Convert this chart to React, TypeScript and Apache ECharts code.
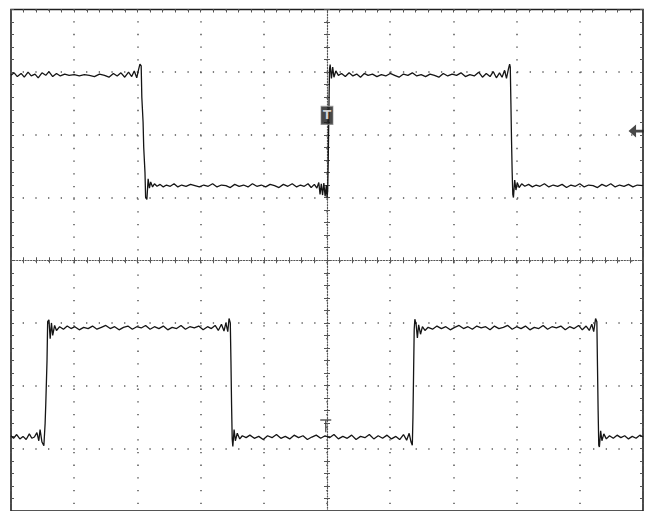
import React, { useEffect, useRef } from "react";
import * as echarts from "echarts";

// time in divisions relative to trigger, amplitude in divisions
const ch1Trace: number[][] = [
  [-5.00, 2.95], [-4.95, 2.99], [-4.90, 2.93], [-4.84, 2.98], [-4.79, 2.92], [-4.73, 3.00], [-4.68, 2.94],
  [-4.62, 2.97], [-4.57, 2.91], [-4.51, 2.99], [-4.45, 2.95], [-4.40, 3.01], [-4.34, 2.93], [-4.28, 2.98],
  [-4.22, 2.94], [-4.15, 2.97], [-4.08, 2.95], [-4.00, 2.96], [-3.92, 2.94], [-3.84, 2.96], [-3.76, 2.95],
  [-3.68, 2.93], [-3.60, 2.97], [-3.52, 2.95], [-3.45, 2.92], [-3.38, 2.98], [-3.32, 2.94], [-3.26, 2.99],
  [-3.20, 2.92], [-3.14, 3.00], [-3.09, 2.93], [-3.05, 3.02], [-3.01, 2.91], [-2.98, 3.05], [-2.96, 3.13],
  [-2.94, 3.10], [-2.93, 2.60], [-2.91, 2.20], [-2.90, 1.80], [-2.88, 1.40], [-2.87, 1.00], [-2.85, 0.97],
  [-2.83, 1.30], [-2.81, 1.15], [-2.79, 1.25], [-2.76, 1.17], [-2.73, 1.22], [-2.69, 1.18], [-2.64, 1.21],
  [-2.59, 1.17], [-2.54, 1.20], [-2.48, 1.18], [-2.42, 1.22], [-2.36, 1.17], [-2.30, 1.20], [-2.23, 1.18],
  [-2.16, 1.21], [-2.09, 1.19], [-2.02, 1.17], [-1.95, 1.20], [-1.88, 1.18], [-1.81, 1.22], [-1.74, 1.17],
  [-1.67, 1.20], [-1.60, 1.19], [-1.53, 1.16], [-1.46, 1.21], [-1.39, 1.18], [-1.32, 1.20], [-1.25, 1.17],
  [-1.18, 1.22], [-1.11, 1.18], [-1.04, 1.20], [-0.97, 1.17], [-0.90, 1.21], [-0.83, 1.19], [-0.76, 1.16],
  [-0.69, 1.21], [-0.62, 1.18], [-0.55, 1.22], [-0.48, 1.17], [-0.42, 1.20], [-0.36, 1.18], [-0.30, 1.22],
  [-0.25, 1.16], [-0.20, 1.21], [-0.16, 1.15], [-0.13, 1.24], [-0.11, 1.05], [-0.09, 1.22], [-0.07, 1.04],
  [-0.05, 1.23], [-0.03, 1.02], [-0.01, 1.20], [0.00, 1.00], [0.01, 1.10], [0.02, 1.60], [0.03, 2.40],
  [0.04, 3.05], [0.05, 3.12], [0.07, 2.90], [0.09, 3.08], [0.11, 2.92], [0.14, 3.02], [0.18, 2.95],
  [0.23, 2.98], [0.29, 2.93], [0.35, 2.99], [0.41, 2.94], [0.47, 2.97], [0.53, 2.92], [0.59, 2.98],
  [0.65, 2.95], [0.72, 2.97], [0.79, 2.93], [0.86, 2.96], [0.93, 2.94], [1.00, 2.98], [1.07, 2.95],
  [1.14, 2.92], [1.21, 2.97], [1.28, 2.95], [1.35, 2.99], [1.42, 2.94], [1.49, 2.96], [1.56, 2.93],
  [1.63, 2.97], [1.70, 2.95], [1.77, 2.92], [1.84, 2.98], [1.91, 2.94], [1.98, 2.97], [2.05, 2.95],
  [2.12, 2.99], [2.19, 2.93], [2.26, 2.96], [2.33, 2.94], [2.40, 3.00], [2.46, 2.92], [2.52, 2.98],
  [2.58, 2.93], [2.63, 3.01], [2.68, 2.91], [2.73, 2.99], [2.77, 2.92], [2.81, 3.03], [2.84, 2.90],
  [2.87, 3.05], [2.89, 3.13], [2.90, 3.08], [2.91, 2.50], [2.92, 1.90], [2.93, 1.40], [2.94, 1.05],
  [2.95, 1.00], [2.97, 1.28], [2.99, 1.12], [3.01, 1.24], [3.04, 1.16], [3.08, 1.22], [3.13, 1.18],
  [3.19, 1.21], [3.25, 1.17], [3.31, 1.20], [3.37, 1.18], [3.44, 1.22], [3.51, 1.17], [3.58, 1.20],
  [3.65, 1.18], [3.72, 1.21], [3.79, 1.16], [3.86, 1.20], [3.93, 1.18], [4.00, 1.22], [4.07, 1.17],
  [4.14, 1.20], [4.21, 1.19], [4.28, 1.16], [4.35, 1.21], [4.42, 1.18], [4.49, 1.22], [4.56, 1.17],
  [4.63, 1.20], [4.70, 1.18], [4.77, 1.21], [4.84, 1.17], [4.91, 1.20], [5.00, 1.19],
];

const ch2Trace: number[][] = [
  [-5.00, -2.80], [-4.96, -2.84], [-4.91, -2.78], [-4.86, -2.85], [-4.81, -2.81], [-4.76, -2.86],
  [-4.71, -2.77], [-4.67, -2.84], [-4.63, -2.82], [-4.59, -2.75], [-4.56, -2.88], [-4.54, -2.70],
  [-4.51, -2.90], [-4.48, -2.96], [-4.46, -2.60], [-4.45, -2.30], [-4.43, -1.60], [-4.42, -0.98],
  [-4.40, -0.95], [-4.38, -1.25], [-4.36, -1.00], [-4.34, -1.20], [-4.31, -1.04], [-4.28, -1.12],
  [-4.23, -1.06], [-4.17, -1.10], [-4.11, -1.05], [-4.05, -1.09], [-3.99, -1.06], [-3.92, -1.11],
  [-3.85, -1.07], [-3.78, -1.09], [-3.71, -1.05], [-3.64, -1.10], [-3.57, -1.07], [-3.50, -1.04],
  [-3.43, -1.09], [-3.36, -1.06], [-3.29, -1.11], [-3.22, -1.07], [-3.15, -1.05], [-3.08, -1.10],
  [-3.01, -1.06], [-2.94, -1.08], [-2.87, -1.04], [-2.80, -1.10], [-2.73, -1.06], [-2.66, -1.09],
  [-2.59, -1.05], [-2.52, -1.11], [-2.45, -1.07], [-2.38, -1.09], [-2.31, -1.04], [-2.24, -1.10],
  [-2.17, -1.06], [-2.10, -1.08], [-2.03, -1.05], [-1.96, -1.11], [-1.89, -1.06], [-1.83, -1.09],
  [-1.77, -1.04], [-1.72, -1.12], [-1.67, -1.02], [-1.63, -1.13], [-1.60, -1.00], [-1.57, -1.14],
  [-1.55, -0.93], [-1.53, -1.00], [-1.52, -1.60], [-1.51, -2.30], [-1.50, -2.85], [-1.49, -2.97],
  [-1.47, -2.70], [-1.45, -2.88], [-1.42, -2.76], [-1.38, -2.85], [-1.34, -2.80], [-1.28, -2.83],
  [-1.22, -2.79], [-1.15, -2.84], [-1.08, -2.81], [-1.01, -2.86], [-0.94, -2.80], [-0.87, -2.83],
  [-0.80, -2.78], [-0.73, -2.84], [-0.66, -2.81], [-0.59, -2.85], [-0.52, -2.79], [-0.45, -2.83],
  [-0.38, -2.80], [-0.31, -2.86], [-0.24, -2.82], [-0.17, -2.79], [-0.10, -2.84], [-0.03, -2.80],
  [0.04, -2.83], [0.11, -2.78], [0.18, -2.85], [0.25, -2.81], [0.32, -2.84], [0.39, -2.79],
  [0.46, -2.86], [0.53, -2.81], [0.60, -2.83], [0.67, -2.78], [0.74, -2.85], [0.81, -2.80],
  [0.88, -2.84], [0.95, -2.79], [1.02, -2.85], [1.09, -2.81], [1.15, -2.86], [1.21, -2.78],
  [1.26, -2.87], [1.30, -2.76], [1.33, -2.90], [1.35, -2.95], [1.36, -2.50], [1.37, -1.80],
  [1.38, -1.10], [1.39, -0.94], [1.41, -1.02], [1.43, -1.24], [1.45, -1.03], [1.48, -1.18],
  [1.51, -1.06], [1.55, -1.12], [1.60, -1.07], [1.67, -1.10], [1.74, -1.05], [1.81, -1.09],
  [1.88, -1.06], [1.95, -1.11], [2.02, -1.07], [2.09, -1.04], [2.16, -1.09], [2.23, -1.06],
  [2.30, -1.10], [2.37, -1.05], [2.44, -1.08], [2.51, -1.06], [2.58, -1.11], [2.65, -1.05],
  [2.72, -1.09], [2.79, -1.07], [2.86, -1.04], [2.93, -1.10], [3.00, -1.06], [3.07, -1.09],
  [3.14, -1.05], [3.21, -1.11], [3.28, -1.07], [3.35, -1.09], [3.42, -1.04], [3.49, -1.10],
  [3.56, -1.06], [3.63, -1.08], [3.70, -1.05], [3.77, -1.11], [3.84, -1.06], [3.91, -1.09],
  [3.98, -1.04], [4.04, -1.11], [4.10, -1.05], [4.15, -1.12], [4.19, -1.02], [4.22, -1.14],
  [4.25, -0.93], [4.27, -0.98], [4.28, -1.70], [4.29, -2.40], [4.30, -2.95], [4.31, -2.98],
  [4.33, -2.72], [4.35, -2.88], [4.38, -2.77], [4.42, -2.85], [4.47, -2.80], [4.53, -2.84],
  [4.59, -2.79], [4.65, -2.83], [4.71, -2.80], [4.77, -2.85], [4.83, -2.81], [4.89, -2.84],
  [4.95, -2.79], [5.00, -2.82],
];

const triggerMarker: number[][] = [[0, 2.31]];
const ch1RefMarker: number[][] = [[4.89, 2.06]];
const triggerLevelMarker: number[][] = [[-0.02, -2.64]];

const X_MIN = -5;
const X_MAX = 5;
const Y_MIN = -4;
const Y_MAX = 4;

const DOT = "#555555";

const borderAxisX = (position: string) => ({
  type: "value",
  min: X_MIN,
  max: X_MAX,
  interval: 1,
  position,
  axisLine: { show: false, onZero: false },
  axisLabel: { show: false },
  axisTick: { show: true, inside: true, length: 3, lineStyle: { color: DOT, width: 1 } },
  minorTick: { show: true, splitNumber: 5, length: 3, lineStyle: { color: DOT, width: 1 } },
  splitLine: { show: false },
});

const borderAxisY = (position: string) => ({
  type: "value",
  min: Y_MIN,
  max: Y_MAX,
  interval: 1,
  position,
  axisLine: { show: false, onZero: false },
  axisLabel: { show: false },
  axisTick: { show: true, inside: true, length: 3, lineStyle: { color: DOT, width: 1 } },
  minorTick: { show: true, splitNumber: 5, length: 3, lineStyle: { color: DOT, width: 1 } },
  splitLine: { show: false },
});

const centerAxisX = (inside: boolean, showLine: boolean) => ({
  type: "value",
  min: X_MIN,
  max: X_MAX,
  interval: 1,
  position: "bottom",
  axisLine: {
    show: showLine,
    onZero: true,
    onZeroAxisIndex: 0,
    lineStyle: { color: DOT, width: 1.2, type: [1.2, 1.6] },
  },
  axisLabel: { show: false },
  axisTick: { show: true, inside, length: 3, lineStyle: { color: DOT, width: 1 } },
  minorTick: { show: true, splitNumber: 5, length: 3, lineStyle: { color: DOT, width: 1 } },
  splitLine: { show: false },
});

const centerAxisY = (inside: boolean, showLine: boolean) => ({
  type: "value",
  min: Y_MIN,
  max: Y_MAX,
  interval: 1,
  position: "left",
  axisLine: {
    show: showLine,
    onZero: true,
    onZeroAxisIndex: 0,
    lineStyle: { color: DOT, width: 1.2, type: [1.2, 1.6] },
  },
  axisLabel: { show: false },
  axisTick: { show: true, inside, length: 3, lineStyle: { color: DOT, width: 1 } },
  minorTick: { show: true, splitNumber: 5, length: 3, lineStyle: { color: DOT, width: 1 } },
  splitLine: { show: false },
});

const gridDots = { color: DOT, width: 1.5, type: [1.3, 11.37], dashOffset: 0.65 };

export default function App() {
  const ref = useRef<HTMLDivElement>(null);

  useEffect(() => {
    if (!ref.current) return;
    const chart = echarts.init(ref.current, undefined, { renderer: "svg" });
    const xMain: any = borderAxisX("top");
    xMain.splitLine = { show: true, lineStyle: gridDots };
    const yMain: any = borderAxisY("left");
    yMain.splitLine = { show: true, lineStyle: { ...gridDots, type: [1.3, 11.375] } };

    chart.setOption({
      animation: false,
      backgroundColor: "#ffffff",
      grid: {
        left: 11,
        top: 9.5,
        width: 632,
        height: 507,
        show: true,
        backgroundColor: "#ffffff",
        borderColor: "#1e1e1e",
        borderWidth: 1.6,
      },
      xAxis: [xMain, centerAxisX(true, true), centerAxisX(false, false)],
      yAxis: [yMain, borderAxisY("right"), centerAxisY(true, true), centerAxisY(false, false)],
      series: [
        {
          type: "line",
          name: "CH1",
          data: ch1Trace,
          xAxisIndex: 0,
          yAxisIndex: 0,
          showSymbol: false,
          symbol: "none",
          lineStyle: { color: "#151515", width: 1.3 },
          z: 5,
        },
        {
          type: "line",
          name: "CH2",
          data: ch2Trace,
          xAxisIndex: 0,
          yAxisIndex: 0,
          showSymbol: false,
          symbol: "none",
          lineStyle: { color: "#151515", width: 1.3 },
          z: 5,
        },
        {
          type: "scatter",
          data: triggerMarker,
          xAxisIndex: 0,
          yAxisIndex: 0,
          symbol: "rect",
          symbolSize: [12, 18],
          itemStyle: { color: "#1a1a1a", borderColor: "#888", borderWidth: 1 },
          label: {
            show: true,
            position: "inside",
            formatter: "T",
            color: "#ffffff",
            fontSize: 12,
            fontWeight: "bold",
            fontFamily: "DejaVu Sans",
          },
          z: 6,
        },
        {
          type: "scatter",
          data: ch1RefMarker,
          xAxisIndex: 0,
          yAxisIndex: 0,
          symbol: "path://M0,6L7,0L7,4.8L14,4.8L14,7.2L7,7.2L7,12Z",
          symbolSize: [15, 13],
          itemStyle: { color: "#1a1a1a" },
          z: 6,
        },
        {
          type: "scatter",
          data: triggerLevelMarker,
          xAxisIndex: 0,
          yAxisIndex: 0,
          symbol: "path://M0,0L12,0L12,1.6L6.8,1.6L6.8,13L5.2,13L5.2,1.6L0,1.6Z",
          symbolSize: [11, 13],
          itemStyle: { color: "#333" },
          z: 6,
        },
      ],
    });
    return () => chart.dispose();
  }, []);

  return (
    <div
      ref={ref}
      style={{ position: "fixed", left: 0, top: 0, width: 655, height: 511, background: "#fff" }}
    />
  );
}
